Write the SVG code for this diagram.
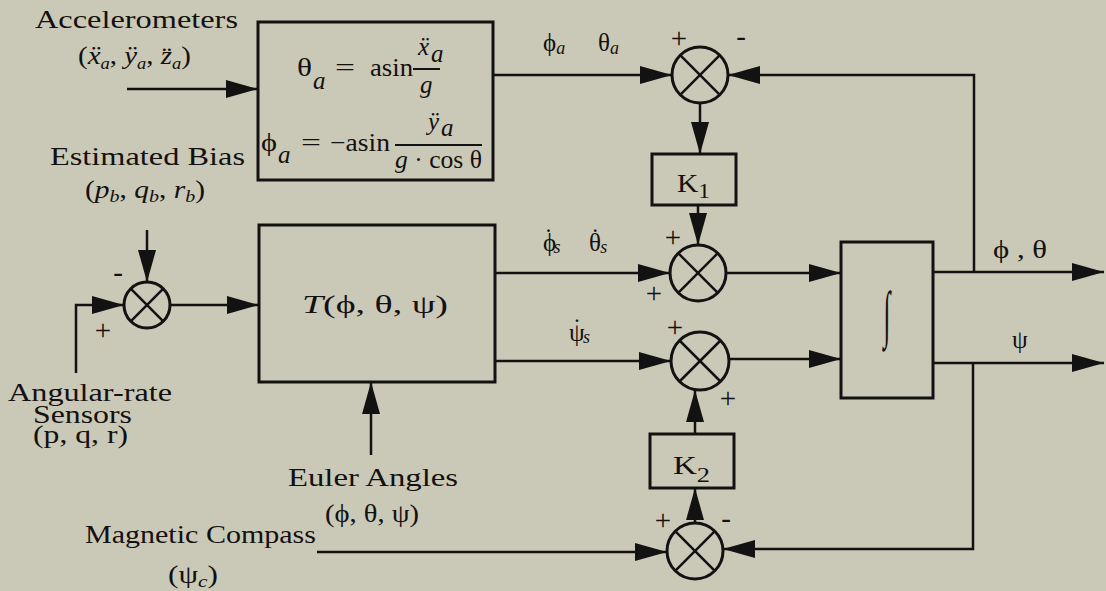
<svg xmlns="http://www.w3.org/2000/svg" width="1106" height="591" viewBox="0 0 1106 591">
<style>
.t{font-family:"Liberation Serif","DejaVu Serif",serif;fill:#141010;font-size:25px}
.i{font-style:italic}
.pm{font-size:29px}
.box{fill:none;stroke:#121212;stroke-width:3}
.sum circle{fill:none;stroke:#121212;stroke-width:3}
.sum line{stroke:#121212;stroke-width:2.5}
.c path{fill:none;stroke:#121212;stroke-width:2.5;marker-end:url(#ar)}
</style>
<defs>
<marker id="ar" markerUnits="userSpaceOnUse" markerWidth="34" markerHeight="20" refX="32" refY="9" orient="auto"><path d="M0,0 L32,9 L0,18 z" fill="#121212"/></marker>
</defs>
<rect width="1106" height="591" fill="#cac9b7"/>

<g id="accelerometers">
<text class="t" x="35" y="28" font-size="25" textLength="203" lengthAdjust="spacingAndGlyphs">Accelerometers</text>
<text class="t" x="78" y="64" font-size="24" textLength="113" lengthAdjust="spacingAndGlyphs">(<tspan class="i">ẍ</tspan><tspan class="i" font-size="16" dy="5">a</tspan><tspan dy="-5">, </tspan><tspan class="i">ÿ</tspan><tspan class="i" font-size="16" dy="5">a</tspan><tspan dy="-5">, </tspan><tspan class="i">z̈</tspan><tspan class="i" font-size="16" dy="5">a</tspan><tspan dy="-5">)</tspan></text>
</g>

<g id="bias">
<text class="t" x="50" y="165" font-size="26" textLength="195" lengthAdjust="spacingAndGlyphs">Estimated Bias</text>
<text class="t" x="85" y="198" font-size="24" textLength="120" lengthAdjust="spacingAndGlyphs">(<tspan class="i">p</tspan><tspan class="i" font-size="17" dy="4">b</tspan><tspan dy="-4">, </tspan><tspan class="i">q</tspan><tspan class="i" font-size="17" dy="4">b</tspan><tspan dy="-4">, </tspan><tspan class="i">r</tspan><tspan class="i" font-size="17" dy="4">b</tspan><tspan dy="-4">)</tspan></text>
</g>

<g id="rate-sensors">
<text class="t" x="8" y="401" font-size="25" textLength="164" lengthAdjust="spacingAndGlyphs">Angular-rate</text>
<text class="t" x="33" y="423" font-size="24" textLength="99" lengthAdjust="spacingAndGlyphs">Sensors</text>
<text class="t" x="33" y="443" font-size="24" textLength="95" lengthAdjust="spacingAndGlyphs">(p, q, r)</text>
</g>

<g id="euler">
<text class="t" x="288" y="486" font-size="27" textLength="170" lengthAdjust="spacingAndGlyphs">Euler Angles</text>
<text class="t" x="325" y="522" font-size="24" textLength="94" lengthAdjust="spacingAndGlyphs">(ϕ, θ, ψ)</text>
</g>

<g id="compass">
<text class="t" x="85" y="543" font-size="26" textLength="231" lengthAdjust="spacingAndGlyphs">Magnetic Compass</text>
<text class="t" x="168" y="583" font-size="24" textLength="50" lengthAdjust="spacingAndGlyphs">(ψ<tspan class="i" font-size="17" dy="4">c</tspan><tspan dy="-4">)</tspan></text>
</g>

<g id="formula-box">
<rect class="box" x="258" y="22" width="235" height="158"/>
<text class="t" x="297" y="76" font-size="27" textLength="15" lengthAdjust="spacingAndGlyphs">θ</text>
<text class="t i" x="313" y="89" font-size="24">a</text>
<text class="t" x="335" y="76" font-size="26" textLength="20" lengthAdjust="spacingAndGlyphs">=</text>
<text class="t" x="370" y="76" font-size="25" textLength="43" lengthAdjust="spacingAndGlyphs">asin</text>
<line x1="413" y1="69" x2="440" y2="69" stroke="#121212" stroke-width="2"/>
<text class="t i" x="418" y="55" font-size="25">ẍ</text>
<text class="t i" x="431" y="62" font-size="15">a</text>
<text class="t i" x="420" y="93" font-size="24">g</text>
<text class="t" x="261" y="151" font-size="27" textLength="16" lengthAdjust="spacingAndGlyphs">ϕ</text>
<text class="t i" x="278" y="163" font-size="24">a</text>
<text class="t" x="301" y="151" font-size="26" textLength="20" lengthAdjust="spacingAndGlyphs">=</text>
<text class="t" x="330" y="151" font-size="25" textLength="60" lengthAdjust="spacingAndGlyphs">−asin</text>
<line x1="395" y1="145" x2="482" y2="145" stroke="#121212" stroke-width="2"/>
<text class="t i" x="428" y="130" font-size="25">ÿ</text>
<text class="t i" x="441" y="136" font-size="15">a</text>
<text class="t" x="395" y="168" font-size="25" textLength="87" lengthAdjust="spacingAndGlyphs"><tspan class="i">g</tspan> · cos θ</text>
</g>

<g id="transform-box">
<rect class="box" x="259" y="225" width="236" height="157"/>
<text class="t" x="302" y="313" font-size="28" textLength="146" lengthAdjust="spacingAndGlyphs"><tspan class="i">T</tspan>(ϕ, θ, ψ)</text>
</g>

<g id="k1">
<rect class="box" x="652" y="154" width="84" height="51"/>
<text class="t" x="677" y="192" font-size="31" textLength="33" lengthAdjust="spacingAndGlyphs">K<tspan font-size="20" dy="6">1</tspan></text>
</g>

<g id="k2">
<rect class="box" x="650" y="434" width="84" height="54"/>
<text class="t" x="673" y="474" font-size="31" textLength="37" lengthAdjust="spacingAndGlyphs">K<tspan font-size="20" dy="8">2</tspan></text>
</g>

<g id="integrator">
<rect class="box" x="841" y="242" width="92" height="156"/>
<text class="t" x="0" y="134" font-size="46" text-anchor="middle" transform="translate(887,0) scale(1,2.5)">∫</text>
</g>

<g id="sum0" class="sum">
<circle cx="147" cy="305" r="23"/>
<line x1="130.7" y1="288.7" x2="163.3" y2="321.3"/><line x1="163.3" y1="288.7" x2="130.7" y2="321.3"/>
<text class="t pm" x="118" y="282" text-anchor="middle">-</text>
<text class="t pm" x="103" y="340" text-anchor="middle">+</text>
</g>

<g id="sum1" class="sum">
<circle cx="700" cy="75" r="28"/>
<line x1="680.2" y1="55.2" x2="719.8" y2="94.8"/><line x1="719.8" y1="55.2" x2="680.2" y2="94.8"/>
<text class="t pm" x="679" y="48" text-anchor="middle">+</text>
<text class="t pm" x="741" y="46" text-anchor="middle">-</text>
</g>

<g id="sum2" class="sum">
<circle cx="698" cy="273" r="28"/>
<line x1="678.2" y1="253.2" x2="717.8" y2="292.8"/><line x1="717.8" y1="253.2" x2="678.2" y2="292.8"/>
<text class="t pm" x="673" y="247" text-anchor="middle">+</text>
<text class="t pm" x="654" y="303" text-anchor="middle">+</text>
</g>

<g id="sum3" class="sum">
<circle cx="700" cy="361" r="29"/>
<line x1="679.5" y1="340.5" x2="720.5" y2="381.5"/><line x1="720.5" y1="340.5" x2="679.5" y2="381.5"/>
<text class="t pm" x="675" y="337" text-anchor="middle">+</text>
<text class="t pm" x="728" y="408" text-anchor="middle">+</text>
</g>

<g id="sum4" class="sum">
<circle cx="695" cy="551" r="28"/>
<line x1="675.2" y1="531.2" x2="714.8" y2="570.8"/><line x1="714.8" y1="531.2" x2="675.2" y2="570.8"/>
<text class="t pm" x="663" y="530" text-anchor="middle">+</text>
<text class="t pm" x="726" y="528" text-anchor="middle">-</text>
</g>

<g id="labels">
<text class="t" x="543" y="51" font-size="25">ϕ<tspan class="i" font-size="18" dy="3">a</tspan></text>
<text class="t" x="598" y="51" font-size="25">θ<tspan class="i" font-size="18" dy="3">a</tspan></text>
<text class="t" x="543" y="251" font-size="25">ϕ<tspan dx="-12" dy="-5">˙</tspan><tspan class="i" font-size="18" dx="1" dy="7">s</tspan></text>
<text class="t" x="589" y="251" font-size="25">θ<tspan dx="-10" dy="-5">˙</tspan><tspan class="i" font-size="18" dx="1" dy="7">s</tspan></text>
<text class="t" x="569" y="341" font-size="25">ψ<tspan dx="-12" dy="-5">˙</tspan><tspan class="i" font-size="18" dx="2" dy="7">s</tspan></text>
<text class="t" x="993" y="258" font-size="25" textLength="54" lengthAdjust="spacingAndGlyphs">ϕ , θ</text>
<text class="t" x="1012" y="348" font-size="25">ψ</text>
</g>

<g id="connectors" class="c">
<path d="M127,89 H258"/>
<path d="M493,75 H672"/>
<path d="M974,272 V75 H728"/>
<path d="M700,103 V154"/>
<path d="M698,205 V245"/>
<path d="M495,273 H670"/>
<path d="M726,273 H841"/>
<path d="M495,361 H671"/>
<path d="M729,359 H841"/>
<path d="M933,272 H1104"/>
<path d="M933,363 H1104"/>
<path d="M973,363 V549 H723"/>
<path d="M317,552 H667"/>
<path d="M695,523 V488"/>
<path d="M695,434 V390"/>
<path d="M147,230 V282"/>
<path d="M76,373 V305 H124"/>
<path d="M170,305 H259"/>
<path d="M371,455 V382"/>
</g>
</svg>
